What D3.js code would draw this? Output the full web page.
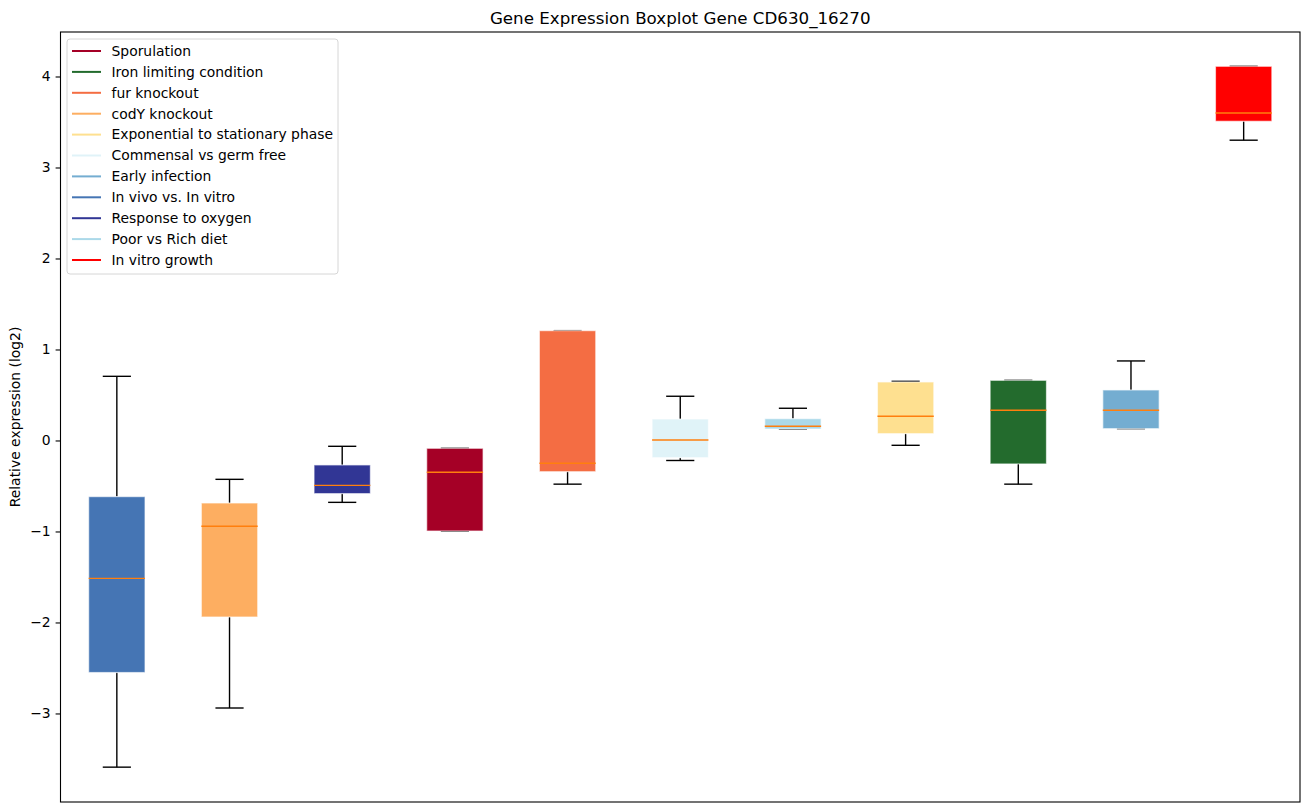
<!DOCTYPE html>
<html>
<head>
<meta charset="utf-8">
<script src="https://cdn.jsdelivr.net/npm/d3@7"></script>
<style>
  body { margin: 0; background: #fff; }
  text { font-family: "DejaVu Sans", sans-serif; fill: #000; }
</style>
</head>
<body>
<div id="chart"></div>
<script>
// box order on the x axis (left to right)
const groups = [
  "In vivo vs. In vitro", "codY knockout", "Response to oxygen", "Sporulation",
  "fur knockout", "Commensal vs germ free", "Poor vs Rich diet",
  "Exponential to stationary phase", "Iron limiting condition", "Early infection",
  "In vitro growth"
];
const whiskerLow  = [-3.59, -2.94, -0.68, -0.995, -0.48, -0.22, 0.126, -0.053, -0.48, 0.13, 3.30];
const q1          = [-2.55, -1.94, -0.584, -0.995, -0.343, -0.189, 0.126, 0.075, -0.258, 0.13, 3.508];
const medians     = [-1.515, -0.943, -0.493, -0.35, -0.251, 0.005, 0.156, 0.266, 0.332, 0.332, 3.599];
const q3          = [-0.617, -0.687, -0.269, -0.086, 1.207, 0.236, 0.24, 0.643, 0.661, 0.555, 4.112];
const whiskerHigh = [0.705, -0.427, -0.064, -0.086, 1.207, 0.486, 0.354, 0.65, 0.661, 0.874, 4.112];

// legend order and colours
const legendNames = [
  "Sporulation", "Iron limiting condition", "fur knockout", "codY knockout",
  "Exponential to stationary phase", "Commensal vs germ free", "Early infection",
  "In vivo vs. In vitro", "Response to oxygen", "Poor vs Rich diet", "In vitro growth"
];
const legendColors = [
  "#a50026", "#236b2d", "#f46d43", "#fdae61", "#fee090", "#e0f3f8",
  "#74add1", "#4575b4", "#313695", "#abd9e9", "#ff0000"
];
const yTicks = [-3, -2, -1, 0, 1, 2, 3, 4];

const colorOf = d3.scaleOrdinal().domain(legendNames).range(legendColors);

const W = 1309, H = 812;
const margin = { top: 32, right: 9, bottom: 10, left: 60.5 };
const width = W - margin.left - margin.right;
const height = H - margin.top - margin.bottom;

const data = groups.map((g, i) => ({
  name: g, pos: i + 1,
  lo: whiskerLow[i], q1: q1[i], med: medians[i], q3: q3[i], hi: whiskerHigh[i]
}));

const svg = d3.select("#chart").append("svg")
  .attr("width", W).attr("height", H);

const container = svg.append("g")
  .attr("transform", `translate(${margin.left}, ${margin.top})`);

const x = d3.scaleLinear().domain([0.5, 11.5]).range([0, width]);
const y = d3.scaleLinear().domain([-3.973, 4.489]).range([height, 0]);

const boxW = x(1.25) - x(1);
const capW = x(1.125) - x(1);

// y axis
const yAxis = container.append("g")
  .call(d3.axisLeft(y).tickValues(yTicks).tickSize(4.9).tickPadding(4.9)
    .tickFormat(d => d < 0 ? "\u2212" + Math.abs(d) : d));
yAxis.select(".domain").remove();
yAxis.selectAll(".tick line").attr("stroke", "#000").attr("stroke-width", 1.1);
yAxis.selectAll(".tick text").style("font-size", "13.9px");

// whiskers and caps
const boxes = container.selectAll(".box").data(data).enter().append("g").attr("class", "box");

boxes.append("line")
  .attr("x1", d => x(d.pos)).attr("x2", d => x(d.pos))
  .attr("y1", d => y(d.hi)).attr("y2", d => y(d.q3))
  .attr("stroke", "#000").attr("stroke-width", 1.4);
boxes.append("line")
  .attr("x1", d => x(d.pos)).attr("x2", d => x(d.pos))
  .attr("y1", d => y(d.q1)).attr("y2", d => y(d.lo))
  .attr("stroke", "#000").attr("stroke-width", 1.4);
boxes.append("line")
  .attr("x1", d => x(d.pos) - capW).attr("x2", d => x(d.pos) + capW)
  .attr("y1", d => y(d.hi)).attr("y2", d => y(d.hi))
  .attr("stroke", "#000").attr("stroke-width", 1.4);
boxes.append("line")
  .attr("x1", d => x(d.pos) - capW).attr("x2", d => x(d.pos) + capW)
  .attr("y1", d => y(d.lo)).attr("y2", d => y(d.lo))
  .attr("stroke", "#000").attr("stroke-width", 1.4);

// boxes
boxes.append("rect")
  .attr("x", d => x(d.pos) - boxW)
  .attr("width", boxW * 2)
  .attr("y", d => y(d.q3))
  .attr("height", d => Math.max(y(d.q1) - y(d.q3), 0.5))
  .attr("fill", d => colorOf(d.name))
  .attr("stroke", "rgba(255,255,255,0.6)")
  .attr("stroke-width", 1.2);

// medians
boxes.append("line")
  .attr("x1", d => x(d.pos) - boxW).attr("x2", d => x(d.pos) + boxW)
  .attr("y1", d => y(d.med)).attr("y2", d => y(d.med))
  .attr("stroke", "#ff7f0e").attr("stroke-width", 1.4);

// frame
container.append("rect")
  .attr("width", width).attr("height", height)
  .attr("fill", "none").attr("stroke", "#000").attr("stroke-width", 1.1);

// title and y label
svg.append("text")
  .attr("x", margin.left + width / 2).attr("y", 24)
  .attr("text-anchor", "middle").style("font-size", "16.7px")
  .text("Gene Expression Boxplot Gene CD630_16270");

svg.append("text")
  .attr("transform", `translate(20, ${margin.top + height / 2}) rotate(-90)`)
  .attr("text-anchor", "middle").style("font-size", "13.9px")
  .text("Relative expression (log2)");

// legend
const legend = container.append("g").attr("transform", "translate(6.5, 7)");
legend.append("rect")
  .attr("width", 271).attr("height", 235).attr("rx", 3)
  .attr("fill", "rgba(255,255,255,0.8)").attr("stroke", "#d6d6d6").attr("stroke-width", 1);

const rows = legend.selectAll(".row").data(legendNames).enter().append("g")
  .attr("transform", (d, i) => `translate(0, ${12 + i * 20.9})`);
rows.append("line")
  .attr("x1", 5).attr("x2", 34).attr("y1", 0).attr("y2", 0)
  .attr("stroke", d => colorOf(d)).attr("stroke-width", 2);
rows.append("text")
  .attr("x", 44.5).attr("y", 0).attr("dy", "0.35em")
  .style("font-size", "13.9px")
  .text(d => d);
</script>
</body>
</html>
